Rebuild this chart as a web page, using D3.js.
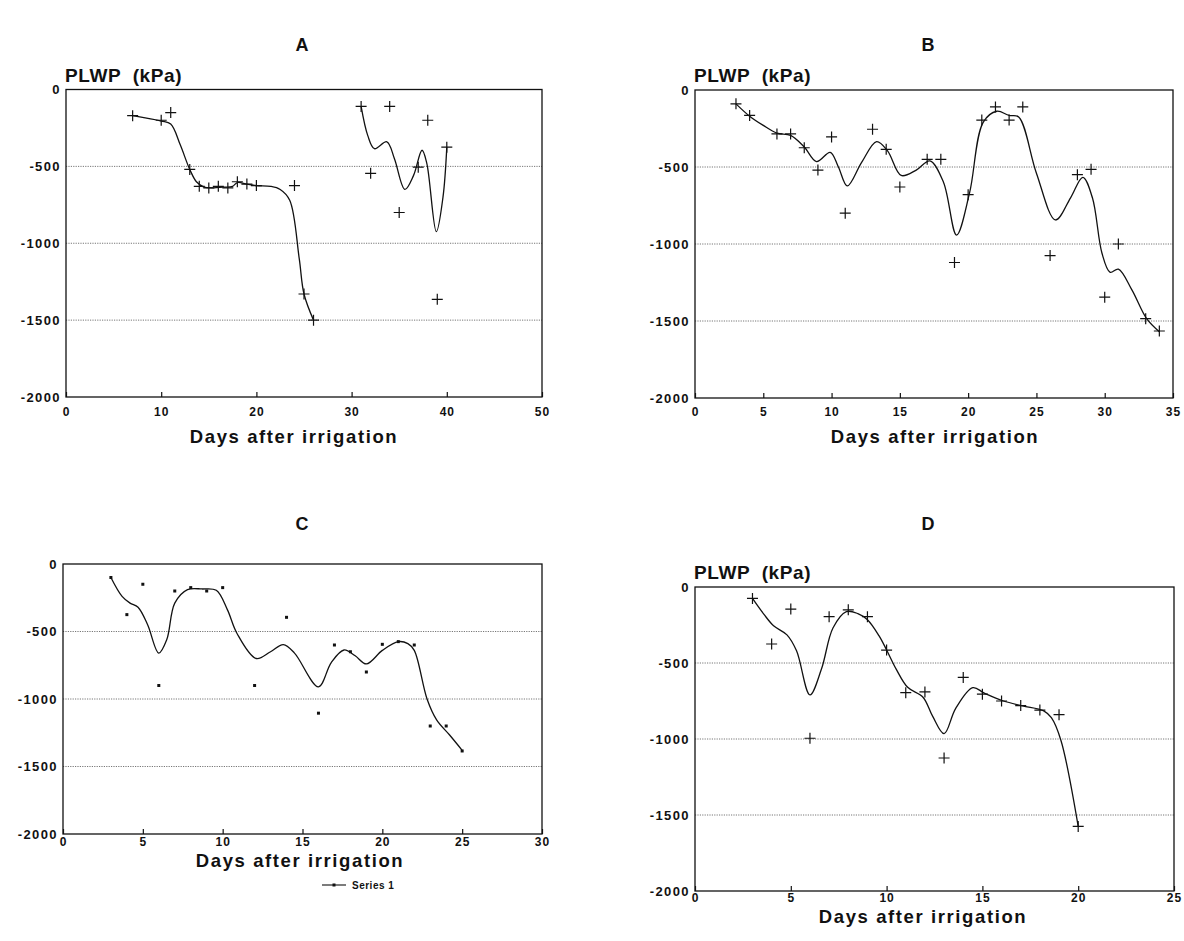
<!DOCTYPE html>
<html>
<head>
<meta charset="utf-8">
<script src="https://cdn.jsdelivr.net/npm/d3@7"></script>
<style>
  body { margin: 0; background: #fff; }
  svg { display: block; }
  text { font-family: "Liberation Sans", Arial, Helvetica, sans-serif; font-weight: bold; fill: #111; }
</style>
</head>
<body>
<svg id="fig" width="1184" height="941"></svg>
<script>
// ---- Predawn leaf water potential (kPa) against days after irrigation ----

// shared axis values
const yTickValues = [0, -500, -1000, -1500, -2000];
const gridValues = [-500, -1000, -1500];

// Panel A
const xTicksA = [0, 10, 20, 30, 40, 50];
const daysA = [7, 10, 11, 13, 14, 15, 16, 17, 18, 19, 20, 24, 25, 26, 31, 32, 34, 35, 37, 38, 39, 40];
const plwpA = [-170, -200, -150, -520, -630, -640, -630, -640, -600, -615, -625, -625, -1330, -1500, -110, -545, -110, -800, -505, -200, -1365, -375];
const fitDaysA1 = [7, 10, 11, 12, 13, 13.7, 14.5, 15.5, 16.5, 17.5, 18, 19, 20, 21.5, 22.5, 23.5, 24.5, 25, 26];
const fitPlwpA1 = [-170, -205, -225, -360, -520, -600, -635, -640, -635, -630, -605, -615, -625, -630, -650, -720, -1100, -1330, -1500];
const fitDaysA2 = [31, 31.7, 32.4, 33.7, 34.5, 35.6, 36.5, 37.4, 37.9, 38.9, 39.6, 40];
const fitPlwpA2 = [-110, -300, -385, -340, -450, -650, -560, -395, -480, -925, -700, -375];

// Panel B
const xTicksB = [0, 5, 10, 15, 20, 25, 30, 35];
const daysB = [3, 4, 6, 7, 8, 9, 10, 11, 13, 14, 15, 17, 18, 19, 20, 21, 22, 23, 24, 26, 28, 29, 30, 31, 33, 34];
const plwpB = [-90, -165, -285, -285, -375, -520, -305, -800, -255, -385, -630, -450, -450, -1120, -680, -195, -110, -195, -110, -1075, -550, -515, -1345, -1000, -1485, -1565];
const fitDaysB = [3, 4, 5, 6, 7, 8, 8.9, 9.9, 10.5, 11.15, 12.2, 13.3, 14.1, 15.1, 16.2, 17.2, 18.2, 19.15, 20.1, 21.1, 22.1, 23, 23.7, 25, 26.4, 27.5, 28.4, 29.1, 29.8, 30.4, 31, 32, 33.07, 34];
const fitPlwpB = [-90, -170, -230, -280, -295, -370, -465, -405, -500, -623, -470, -335, -395, -555, -520, -460, -600, -942, -670, -210, -138, -165, -175, -540, -844, -700, -567, -700, -1060, -1184, -1163, -1300, -1485, -1570];

// Panel C
const xTicksC = [0, 5, 10, 15, 20, 25, 30];
const daysC = [3, 4, 5, 6, 7, 8, 9, 10, 12, 14, 16, 17, 18, 19, 20, 21, 22, 23, 24, 25];
const plwpC = [-100, -375, -150, -900, -200, -175, -200, -175, -900, -395, -1105, -600, -650, -800, -595, -575, -600, -1200, -1200, -1385];
const fitDaysC = [3, 3.7, 4.2, 4.7, 5.3, 6, 6.5, 7, 7.8, 8.7, 9.6, 10.3, 10.9, 12.1, 13, 13.8, 14.5, 16, 16.8, 17.6, 18.3, 19, 20, 21, 21.6, 22, 22.8, 23.4, 24.2, 25];
const fitPlwpC = [-100, -240, -290, -320, -450, -660, -560, -290, -190, -185, -195, -340, -515, -700, -650, -597, -660, -910, -730, -637, -680, -740, -640, -575, -590, -640, -1000, -1155, -1265, -1380];
const legendLabelC = "Series 1";

// Panel D
const xTicksD = [0, 5, 10, 15, 20, 25];
const daysD = [3, 4, 5, 6, 7, 8, 9, 10, 11, 12, 13, 14, 15, 16, 17, 18, 19, 20];
const plwpD = [-75, -375, -145, -995, -195, -150, -195, -415, -695, -690, -1125, -595, -705, -750, -780, -810, -840, -1575];
const fitDaysD = [3, 3.6, 4.1, 4.8, 5.3, 6, 6.6, 7.2, 7.9, 8.5, 9, 9.6, 10, 10.5, 11.1, 11.9, 12.4, 13, 13.6, 14.5, 15.1, 16.1, 17.1, 18.2, 18.6, 19.1, 20];
const fitPlwpD = [-75, -180, -255, -315, -420, -710, -540, -270, -162, -175, -215, -320, -414, -540, -660, -725, -850, -965, -800, -662, -698, -750, -782, -815, -860, -1010, -1575];

const yLabel = "PLWP  (kPa)";
const xLabel = "Days after irrigation";

const zip = (xs, ys) => xs.map((d, i) => [d, ys[i]]);

const svg = d3.select("#fig");

const panels = [
  { name: "A", left: 66, right: 542, top: 89.5, bottom: 397, xMax: 50, xTicks: xTicksA,
    titleX: 302, titleY: 51, showYLabel: true, yLabelY: 82, tickY: 416, xLabelX: 294, xLabelY: 443,
    marker: "plus", points: zip(daysA, plwpA), fits: [zip(fitDaysA1, fitPlwpA1), zip(fitDaysA2, fitPlwpA2)] },
  { name: "B", left: 695, right: 1173, top: 90, bottom: 398, xMax: 35, xTicks: xTicksB,
    titleX: 928, titleY: 51, showYLabel: true, yLabelY: 82, tickY: 416, xLabelX: 935, xLabelY: 443,
    marker: "plus", points: zip(daysB, plwpB), fits: [zip(fitDaysB, fitPlwpB)] },
  { name: "C", left: 63, right: 542, top: 564, bottom: 834, xMax: 30, xTicks: xTicksC,
    titleX: 302, titleY: 530, showYLabel: false, tickY: 846, xLabelX: 300, xLabelY: 867,
    marker: "dot", points: zip(daysC, plwpC), fits: [zip(fitDaysC, fitPlwpC)], legend: legendLabelC },
  { name: "D", left: 695, right: 1174, top: 587, bottom: 891, xMax: 25, xTicks: xTicksD,
    titleX: 928, titleY: 530, showYLabel: true, yLabelY: 579, tickY: 902, xLabelX: 923, xLabelY: 923,
    marker: "plus", points: zip(daysD, plwpD), fits: [zip(fitDaysD, fitPlwpD)] }
];

panels.forEach(p => {
  const x = d3.scaleLinear().domain([0, p.xMax]).range([p.left, p.right]);
  const y = d3.scaleLinear().domain([-2000, 0]).range([p.bottom, p.top]);
  const g = svg.append("g");

  // panel letter
  g.append("text").attr("x", p.titleX).attr("y", p.titleY)
    .attr("text-anchor", "middle").style("font-size", "18px").text(p.name);

  if (p.showYLabel) {
    g.append("text").attr("x", p.left - 1).attr("y", p.yLabelY)
      .style("font-size", "19px").style("letter-spacing", "0.6px")
      .style("white-space", "pre").text(yLabel);
  }

  // dotted gridlines
  g.selectAll("line.grid").data(gridValues).enter().append("line")
    .attr("x1", p.left).attr("x2", p.right)
    .attr("y1", d => y(d)).attr("y2", d => y(d))
    .attr("stroke", "#777").attr("stroke-width", 1).attr("stroke-dasharray", "1.2,1.2");

  // frame
  g.append("rect").attr("x", p.left).attr("y", p.top)
    .attr("width", p.right - p.left).attr("height", p.bottom - p.top)
    .attr("fill", "none").attr("stroke", "#111").attr("stroke-width", 1.3);

  // y tick labels
  const yAxis = d3.axisLeft(y).tickValues(yTickValues).tickSize(0).tickPadding(5)
    .tickFormat(d => d === 0 ? "0" : "-" + Math.abs(d));
  const ya = g.append("g").attr("transform", `translate(${p.left},0)`).call(yAxis);
  ya.select(".domain").remove();
  ya.selectAll("text").style("font-size", "13px").style("letter-spacing", "1.4px")
    .style("font-family", "'Liberation Sans', Arial, sans-serif").style("font-weight", "bold").attr("fill", "#111");

  // x ticks (inward) and labels
  const xAxis = d3.axisBottom(x).tickValues(p.xTicks).tickSize(-5).tickPadding(0).tickFormat(d3.format("d"));
  const xa = g.append("g").attr("transform", `translate(0,${p.bottom})`).call(xAxis);
  xa.select(".domain").remove();
  xa.selectAll("line").attr("stroke", "#111").attr("stroke-width", 1.2);
  xa.selectAll("text").attr("y", p.tickY - p.bottom).attr("dy", 0)
    .style("font-size", "12px").style("letter-spacing", "1px")
    .style("font-family", "'Liberation Sans', Arial, sans-serif").style("font-weight", "bold").attr("fill", "#111");

  g.append("text").attr("x", p.xLabelX).attr("y", p.xLabelY).attr("text-anchor", "middle")
    .style("font-size", "18.5px").style("letter-spacing", "1.6px").text(xLabel);

  // smoothed fit
  const line = d3.line().x(d => x(d[0])).y(d => y(d[1])).curve(d3.curveCatmullRom.alpha(0.5));
  p.fits.forEach(f => {
    g.append("path").attr("d", line(f)).attr("fill", "none")
      .attr("stroke", "#111").attr("stroke-width", 1.3);
  });

  // observations
  if (p.marker === "plus") {
    const s = 5.5;
    g.selectAll("path.pt").data(p.points).enter().append("path")
      .attr("d", d => `M${x(d[0]) - s},${y(d[1])}H${x(d[0]) + s}M${x(d[0])},${y(d[1]) - s}V${y(d[1]) + s}`)
      .attr("stroke", "#111").attr("stroke-width", 1.2).attr("fill", "none");
  } else {
    g.selectAll("rect.pt").data(p.points).enter().append("rect")
      .attr("x", d => x(d[0]) - 1.5).attr("y", d => y(d[1]) - 1.5)
      .attr("width", 3).attr("height", 3).attr("fill", "#111");
  }

  if (p.legend) {
    const lg = g.append("g").attr("transform", "translate(322,885)");
    lg.append("line").attr("x1", 0).attr("x2", 24).attr("y1", 0).attr("y2", 0)
      .attr("stroke", "#111").attr("stroke-width", 1.1);
    lg.append("rect").attr("x", 10.5).attr("y", -1.5).attr("width", 3).attr("height", 3).attr("fill", "#111");
    lg.append("text").attr("x", 30).attr("y", 3.5).style("font-size", "10px")
      .style("letter-spacing", "0.5px").text(p.legend);
  }
});
</script>
</body>
</html>
